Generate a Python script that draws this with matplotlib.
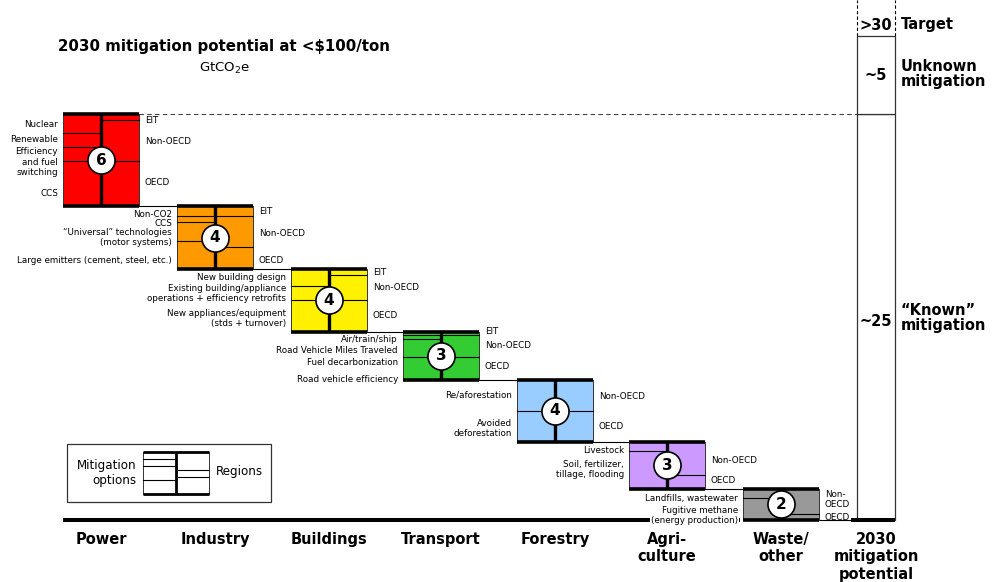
import matplotlib
matplotlib.use("Agg")
import matplotlib.pyplot as plt
from matplotlib.patches import Rectangle

plt.rcParams['font.family'] = ['DejaVu Sans']

# ---------------- data (GtCO2e) ----------------
sectors = ["Power", "Industry", "Buildings", "Transport", "Forestry",
           "Agri-\nculture", "Waste/\nother"]
circle_labels = ["6", "4", "4", "3", "4", "3", "2"]
colors = ["#FF0000", "#FF9900", "#FFF100", "#33CC33", "#99CCFF", "#CC99FF", "#999999"]

power_options = ["Nuclear", "Renewable", "Efficiency\nand fuel\nswitching", "CCS"]
power_option_values = [1.2, 0.9, 0.9, 2.9]
power_regions = ["EIT", "Non-OECD", "OECD"]
power_region_values = [0.4, 2.6, 2.9]

industry_options = ["Non-CO2", "CCS", "\u201cUniversal\u201d technologies\n(motor systems)",
                    "Large emitters (cement, steel, etc.)"]
industry_option_values = [0.6, 0.4, 1.2, 1.8]
industry_regions = ["EIT", "Non-OECD", "OECD"]
industry_region_values = [0.6, 2.0, 1.4]

buildings_options = ["New building design",
                     "Existing building/appliance\noperations + efficiency retrofits",
                     "New appliances/equipment\n(stds + turnover)"]
buildings_option_values = [1.1, 0.9, 2.0]
buildings_regions = ["EIT", "Non-OECD", "OECD"]
buildings_region_values = [0.4, 1.6, 2.0]

transport_options = ["Air/train/ship", "Road Vehicle Miles Traveled",
                     "Fuel decarbonization", "Road vehicle efficiency"]
transport_option_values = [0.25, 0.25, 1.15, 1.45]
transport_regions = ["EIT", "Non-OECD", "OECD"]
transport_region_values = [0.25, 1.35, 1.5]

forestry_options = ["Re/aforestation", "Avoided\ndeforestation"]
forestry_option_values = [1.95, 2.0]
forestry_regions = ["Non-OECD", "OECD"]
forestry_region_values = [1.95, 2.0]

agri_options = ["Livestock", "Soil, fertilizer,\ntillage, flooding"]
agri_option_values = [0.6, 2.4]
agri_regions = ["Non-OECD", "OECD"]
agri_region_values = [2.1, 0.9]

waste_options = ["Landfills, wastewater", "Fugitive methane\n(energy production)"]
waste_option_values = [0.6, 1.4]
waste_regions = ["Non-\nOECD", "OECD"]
waste_region_values = [1.6, 0.4]

unknown_value = 5.0
known_label = "~25"
unknown_label = "~5"
target_label = ">30"
total_category = "2030\nmitigation\npotential"

option_labels = [power_options, industry_options, buildings_options, transport_options,
                 forestry_options, agri_options, waste_options]
option_values = [power_option_values, industry_option_values, buildings_option_values,
                 transport_option_values, forestry_option_values, agri_option_values,
                 waste_option_values]
region_labels = [power_regions, industry_regions, buildings_regions, transport_regions,
                 forestry_regions, agri_regions, waste_regions]
region_values = [power_region_values, industry_region_values, buildings_region_values,
                 transport_region_values, forestry_region_values, agri_region_values,
                 waste_region_values]

# ---------------- layout ----------------
S = 15.64      # pixels per GtCO2e
BASE = 520     # baseline pixel row
W, H = 998, 582
def Y(px):
    return (BASE - px) / S

block_left = [63, 177, 291, 403, 517, 629, 743]
BW = 76
TOT_X = 857
TOT_W = 38
# label nudges in pixels (down positive)
opt_nudge = [[1, 0, 8, 10], [3, 5, 6, 6], [0, 0, 3], [6, 13, 14, 11], [0, 2], [4, 0], [5, 6]]
reg_nudge = [[3, 1, -1], [0, 2, 2], [0, 0, 0], [-2, -1, -2], [1, 0], [2, -1], [-2, 1]]

SMALL = 6.3
fig = plt.figure(figsize=(9.98, 5.82), dpi=100)
ax = fig.add_axes([0, 0, 1, 1])
ax.set_xlim(0, W)
ax.set_ylim(Y(H), Y(0))
ax.axis('off')

totals = [sum(v) for v in option_values]
known_top = sum(totals)
last = len(sectors) - 1

cur = known_top
for i in range(len(sectors)):
    x0 = block_left[i]
    x1 = x0 + BW
    xm = x0 + BW / 2
    yt = cur
    yb = cur - totals[i]
    cur = yb
    ax.add_patch(Rectangle((x0, yb), BW, totals[i], facecolor=colors[i],
                           edgecolor='#333333', lw=0.7, zorder=2))
    bb = dict(facecolor='white', edgecolor='none', pad=0.6) if i == last else None
    # options (left half)
    y = yt
    n = len(option_values[i])
    for k, (lab, v) in enumerate(zip(option_labels[i], option_values[i])):
        ax.text(x0 - 5, y - v / 2 - opt_nudge[i][k] / S, lab, ha='right', va='center',
                fontsize=SMALL, multialignment='right', linespacing=1.15, zorder=8,
                bbox=bb)
        y -= v
        if k < n - 1:
            ax.plot([x0, xm], [y, y], color='black', lw=0.8, zorder=3)
    # regions (right half)
    y = yt
    n = len(region_values[i])
    for k, (lab, v) in enumerate(zip(region_labels[i], region_values[i])):
        ax.text(x1 + 6, y - v / 2 - reg_nudge[i][k] / S, lab, ha='left', va='center',
                fontsize=SMALL, multialignment='left', linespacing=1.1, zorder=8)
        y -= v
        if k < n - 1:
            ax.plot([xm, x1], [y, y], color='black', lw=0.8, zorder=3)
    ax.plot([xm, xm], [yb, yt], color='black', lw=2.4, zorder=4, solid_capstyle='butt')
    ax.plot([x0, x1], [yt, yt], color='black', lw=2.6, zorder=5, solid_capstyle='butt')
    ax.plot([x0, x1], [yb, yb], color='black', lw=2.6, zorder=5, solid_capstyle='butt')
    yc = (yt + yb) / 2
    ax.scatter([xm], [yc], s=380, facecolor='white', edgecolor='black', lw=1.2, zorder=6)
    ax.text(xm, yc, circle_labels[i], ha='center', va='center', fontsize=11,
            fontweight='bold', zorder=7)
    if i < last:
        ax.plot([x1, block_left[i + 1]], [yb, yb], color='black', lw=0.8, zorder=3)
    # category label
    ax.text(xm, Y(532), sectors[i], ha='center', va='top', fontsize=10.5,
            fontweight='bold', linespacing=1.2)

# baseline
ax.plot([block_left[0], block_left[-1] - 3], [0, 0], color='black', lw=2.9,
        solid_capstyle='butt', zorder=5)
ax.plot([block_left[-1] + BW, TOT_X], [0, 0], color='black', lw=0.8, zorder=1)
ax.plot([TOT_X - 6, TOT_X + TOT_W], [0, 0], color='black', lw=2.9,
        solid_capstyle='butt', zorder=5)

# dashed line at top of known potential
ax.plot([block_left[0] + BW, TOT_X], [known_top, known_top], color='#444444',
        lw=0.8, ls=(0, (4, 3)), zorder=1)

# total bar
ax.add_patch(Rectangle((TOT_X, 0), TOT_W, known_top, facecolor='white',
                       edgecolor='#333333', lw=0.9, zorder=2))
ax.add_patch(Rectangle((TOT_X, known_top), TOT_W, unknown_value, facecolor='white',
                       edgecolor='#333333', lw=0.9, zorder=2))
utop = known_top + unknown_value
for xx in (TOT_X, TOT_X + TOT_W):
    ax.plot([xx, xx], [utop, Y(0)], color='black', lw=0.8, ls=(0, (3, 2)), zorder=1)
xc = TOT_X + TOT_W / 2
ax.text(xc, Y(25), target_label, ha='center', va='center', fontsize=10.5, fontweight='bold')
ax.text(TOT_X + TOT_W + 6, Y(25), "Target", ha='left', va='center', fontsize=10.5,
        fontweight='bold')
ax.text(xc, known_top + unknown_value / 2, unknown_label, ha='center', va='center',
        fontsize=10.5, fontweight='bold')
ax.text(TOT_X + TOT_W + 6, known_top + unknown_value / 2 + 1 / S, "Unknown\nmitigation",
        ha='left', va='center', fontsize=10.5, fontweight='bold', linespacing=1.05)
ax.text(xc, Y(322), known_label, ha='center', va='center', fontsize=10.5, fontweight='bold')
ax.text(TOT_X + TOT_W + 6, Y(318), "\u201cKnown\u201d\nmitigation", ha='left', va='center',
        fontsize=10.5, fontweight='bold', linespacing=1.05)
ax.text(xc, Y(532), total_category, ha='center', va='top', fontsize=10.5,
        fontweight='bold', linespacing=1.2)

# title
ax.text(58, Y(47), "2030 mitigation potential at <\\$100/ton", ha='left', va='center',
        fontsize=10.8, fontweight='bold')
ax.text(225, Y(68), "GtCO$_2$e", ha='center', va='center', fontsize=9.5)

# legend
ax.add_patch(Rectangle((67, Y(502)), 204, Y(444) - Y(502), facecolor='white',
                       edgecolor='#333333', lw=0.9, zorder=2))
lx0, lx1, lxm = 143, 209, 176
ax.add_patch(Rectangle((lx0, Y(494)), lx1 - lx0, Y(452) - Y(494), facecolor='white',
                       edgecolor='#333333', lw=0.7, zorder=3))
for p in (459, 466, 480):
    ax.plot([lx0, lxm], [Y(p), Y(p)], color='black', lw=0.8, zorder=4)
for p in (470, 477):
    ax.plot([lxm, lx1], [Y(p), Y(p)], color='black', lw=0.8, zorder=4)
ax.plot([lxm, lxm], [Y(494), Y(452)], color='black', lw=2.0, zorder=5, solid_capstyle='butt')
for p in (452, 494):
    ax.plot([lx0, lx1], [Y(p), Y(p)], color='black', lw=2.0, zorder=5, solid_capstyle='butt')
ax.text(137, Y(473), "Mitigation\noptions", ha='right', va='center', fontsize=8.6,
        multialignment='right', linespacing=1.15)
ax.text(216, Y(472), "Regions", ha='left', va='center', fontsize=8.6)

fig.savefig("out.png", dpi=100)
